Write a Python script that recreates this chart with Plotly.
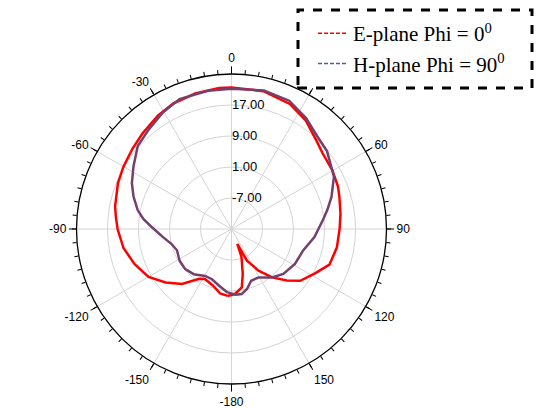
import plotly.graph_objects as go

# E-plane (Phi = 0 deg) pattern, drawing order (theta deg, r dB)
e_theta = [-176.6, -170, -162, -152, -147, -138, -129, -120, -110, -100, -90, -84, -79, -68, -60,
           -51, -43, -33, -25, -15, -5, 0, 13, 25, 34.5, 44, 50, 60, 68, 73, 82, 90, 100, 110,
           118, 127, 133, 140, 147, 154, 158.5, 160.4, 166, 170, 177, 183.4]
e_r = [2.3, 1.9, 0.4, -0.4, 0.3, 4.1, 6.9, 9.7, 11.6, 13.3, 14.4, 15.0, 15.6, 16.6, 17.2,
       17.9, 18.7, 19.9, 20.7, 21.2, 21.5, 21.5, 21.5, 20.6, 18.9, 16.6, 15.6, 15.1, 14.6, 14.1, 13.4, 12.9, 12.6, 11.9,
       9.4, 7.2, 4.5, 1.3, -2.2, -5.9, -10.9, -7.3, -3.0, 0.3, 1.8, 2.3]

# H-plane (Phi = 90 deg) pattern
h_theta = [-176.4, -167.7, -158.8, -150.6, -140.1, -130.9, -121.5, -111.3, -103.8, -96.8, -88.6,
           -83.5, -78.6, -71.8, -65.3, -57.5, -48.5, -39.7, -30.5, -21.8, -9.7, 0, 13.2, 24.2,
           33.9, 42.6, 50.8, 62.9, 72.2, 78.8, 84.4, 95.6, 106.6, 118.9, 130.9, 140, 151.1,
           159.2, 165.5, 171.2, 176.3, 183.6]
h_r = [1.4, 0.0, -1.1, -1.1, 0.2, 0.8, 0.7, 0.1, 1.0, 2.8, 5.6,
       7.9, 9.7, 11.6, 13.3, 15.0, 17.3, 18.4, 19.9, 21.1, 21.2, 21.2, 21.7, 21.3,
       19.5, 17.6, 16.8, 14.7, 12.1, 10.2, 8.7, 6.5, 4.3, 3.7, 2.7, 1.3, -0.7,
       -0.7, 1.0, 2.0, 2.0, 1.4]

legend_names = ["E-plane Phi = 0<sup>0</sup>", "H-plane Phi = 90<sup>0</sup>"]
r_range = [-15, 25]
r_ticks = [-7, 1, 9, 17]
r_ticktext = ["-7.00", "1.00", "9.00", "17.00"]
ang_ticks = list(range(0, 360, 30))
ang_ticktext = ["0", "30", "60", "90", "120", "150", "-180", "-150", "-120", "-90", "-60", "-30"]
minor_ticks = list(range(0, 360, 5))

fig = go.Figure()
fig.add_trace(go.Scatterpolar(r=e_r, theta=e_theta, mode="lines",
                              line=dict(color="#ff0000", width=2.5), showlegend=False))
fig.add_trace(go.Scatterpolar(r=h_r, theta=h_theta, mode="lines",
                              line=dict(color="#74406e", width=2.5), showlegend=False))
# legend entries (dashed samples)
fig.add_trace(go.Scatterpolar(r=[None], theta=[None], mode="lines", name=legend_names[0],
                              line=dict(color="#ff0000", width=1.5, dash="4px,2px")))
fig.add_trace(go.Scatterpolar(r=[None], theta=[None], mode="lines", name=legend_names[1],
                              line=dict(color="#4a5ea8", width=1.5, dash="4px,2px")))
# minor tick subplot anchor
fig.add_trace(go.Scatterpolar(r=[r_range[0]], theta=[0], mode="markers", subplot="polar2",
                              marker=dict(opacity=0), showlegend=False, hoverinfo="skip"))

W, H = 542, 408
cx, cy, R = 231.5, 229, 155
dom_x = [(cx - R) / W, (cx + R) / W]
dom_y = [(H - cy - R) / H, (H - cy + R) / H]

fig.update_layout(
    width=W, height=H, margin=dict(l=0, r=0, t=0, b=0),
    paper_bgcolor="white",
    font=dict(family="Liberation Sans, Arial", size=12, color="black"),
    polar=dict(
        domain=dict(x=dom_x, y=dom_y),
        bgcolor="white",
        angularaxis=dict(rotation=90, direction="clockwise", tickmode="array",
                         tickvals=ang_ticks, ticktext=ang_ticktext,
                         showline=True, linecolor="black", linewidth=1.3,
                         ticks="outside", ticklen=7, tickcolor="black", tickwidth=1.2,
                         gridcolor="#d4d4d4", gridwidth=1,
                         tickfont=dict(size=12, family="Liberation Sans, Arial", color="black")),
        radialaxis=dict(range=r_range, tickmode="array", tickvals=r_ticks, ticktext=r_ticktext,
                        angle=90, tickangle=90, showline=False, ticks="",
                        gridcolor="#d4d4d4", gridwidth=1,
                        tickfont=dict(size=13, family="Liberation Sans, Arial", color="black")),
    ),
    polar2=dict(
        domain=dict(x=dom_x, y=dom_y),
        bgcolor="rgba(0,0,0,0)",
        angularaxis=dict(rotation=90, direction="clockwise", tickmode="array",
                         tickvals=minor_ticks, showticklabels=False, showgrid=False,
                         showline=False, ticks="outside", ticklen=4, tickcolor="black",
                         tickwidth=1),
        radialaxis=dict(range=r_range, visible=False),
    ),
    legend=dict(x=313 / W, y=1 - 13 / H, xanchor="left", yanchor="top",
                bgcolor="rgba(0,0,0,0)", borderwidth=0,
                font=dict(family="Liberation Serif, Times New Roman", size=21, color="black"),
                tracegroupgap=0, itemwidth=30),
    shapes=[dict(type="rect", xref="paper", yref="paper",
                 x0=298 / W, x1=532 / W, y0=1 - 88 / H, y1=1 - 10 / H,
                 line=dict(color="black", width=3, dash="dash"), fillcolor="white",
                 layer="above")],
)

fig.write_html("out.html")
